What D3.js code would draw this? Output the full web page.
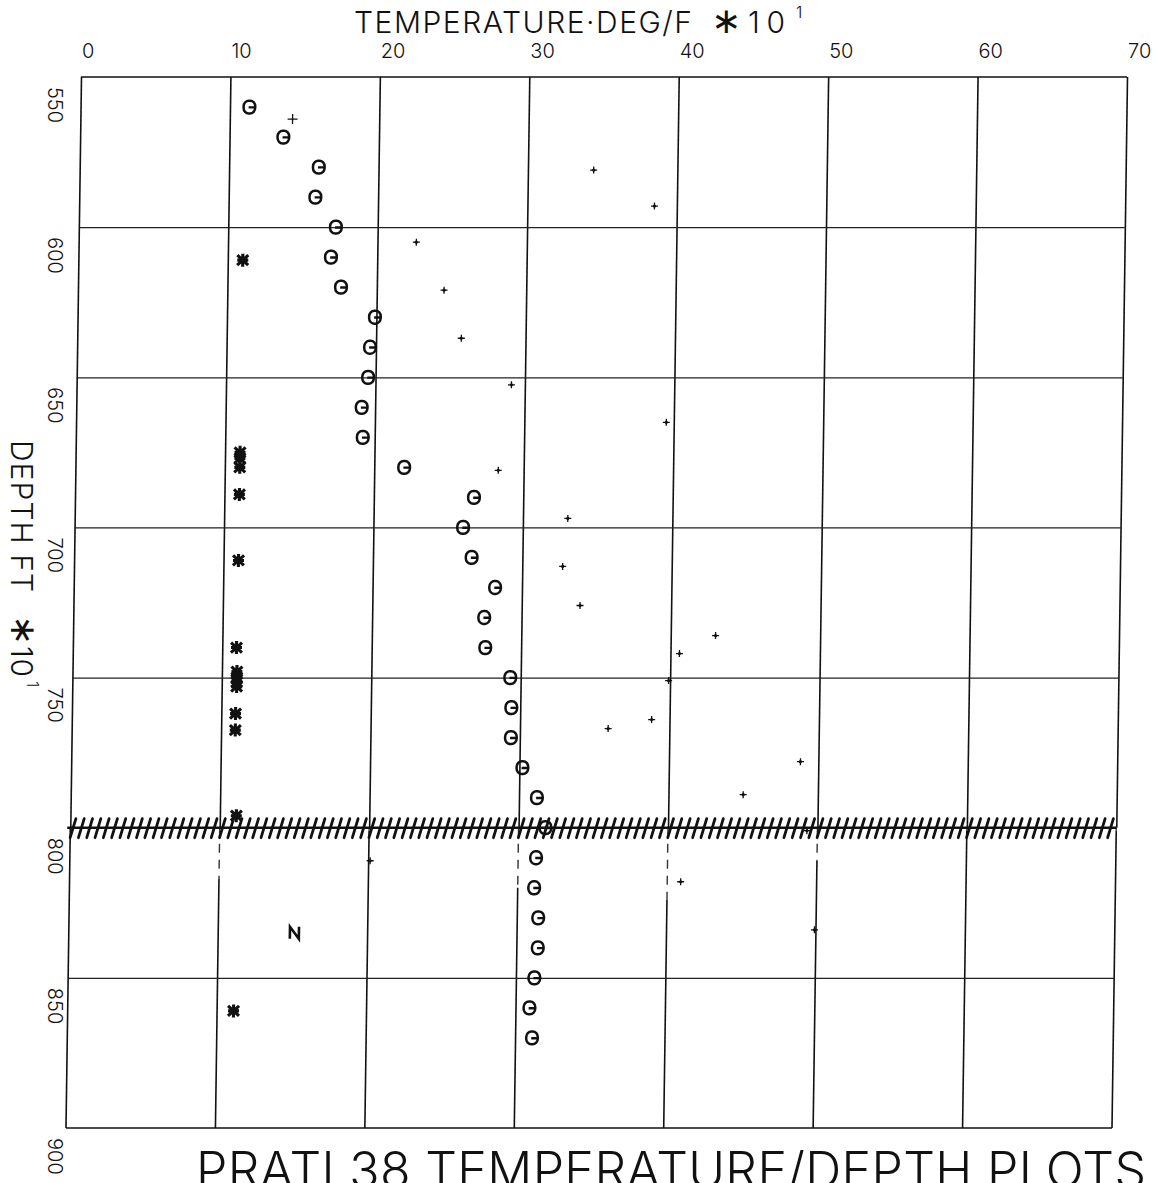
<!DOCTYPE html>
<html><head><meta charset="utf-8">
<script src="https://cdn.jsdelivr.net/npm/d3@7"></script>
<style>
html,body{margin:0;padding:0;background:#fff;}
svg{display:block;}
text{font-family:Inter,"DejaVu Sans",sans-serif;font-weight:300;fill:#111;}
</style></head><body>
<svg id="chart" width="1160" height="1183"></svg>
<script>
// ---------- data ----------
const xTicks = [0, 10, 20, 30, 40, 50, 60, 70];
const xTickLabels = ["0", "10", "20", "30", "40", "50", "60", "70"];
const yTicks = [550, 600, 650, 700, 750, 800, 850, 900];
const yTickLabels = ["550", "600", "650", "700", "750", "800", "850", "900"];
const hGrid = [600, 650, 700, 750, 850];
const hatchDepth = [800];

// "Θ" series
const thetaDepth = [560, 570, 580, 590, 600, 610, 620, 630, 640, 650, 660, 670, 680, 690, 700, 710,
                    720, 730, 740, 750, 760, 770, 780, 790, 800, 810, 820, 830, 840, 850, 860, 870];
const thetaTemp  = [11.3, 13.6, 16.0, 15.8, 17.2, 16.9, 17.6, 19.9, 19.6, 19.5, 19.1, 19.2, 22.0, 26.7, 26.0, 26.6,
                    28.2, 27.5, 27.6, 29.3, 29.4, 29.4, 30.2, 31.2, 31.8, 31.2, 31.1, 31.4, 31.4, 31.2, 30.9, 31.1];

// "+" series
const plusDepth = [564, 581, 593, 605, 621, 637, 652.5, 665, 681, 697, 713, 726, 736, 742, 751, 764, 767, 778, 789, 801, 811, 818, 834];
const plusTemp  = [14.2, 34.4, 38.5, 22.6, 24.5, 25.7, 29.1, 39.5, 28.3, 33.0, 32.7, 33.9, 43.0, 40.6, 39.9, 38.8, 35.9, 48.8, 45.0, 49.3, 20.1, 40.9, 49.9];

// "*" series
const starDepth = [611, 675, 677, 680, 689, 711, 740, 748, 750, 751.5, 753, 762, 767.5, 796, 861];
const starTemp  = [11.0, 11.0, 11.0, 11.0, 11.0, 11.0, 10.95, 11.0, 11.0, 11.0, 11.0, 10.95, 10.95, 11.1, 11.1];

// "N" series
const nDepth = [835];
const nTemp  = [15.1];

// ---------- layout ----------
const M = {left: 81, top: 77, width: 1046, height: 1051};
const shearPx = -15;
const skewDeg = Math.atan(shearPx / M.height) * 180 / Math.PI;
// where each vertical line turns solid again below the hatched line (scan break-up)
const solidFrom = [800, 817, 801, 820, 824, 811, 801, 801];

const x = d3.scaleLinear().domain([0, 70]).range([0, M.width]);
const y = d3.scaleLinear().domain([550, 900]).range([0, M.height]);

const svg = d3.select("#chart");
svg.append("rect").attr("width", 1160).attr("height", 1183).attr("fill", "#fff");

const plot = svg.append("g")
  .attr("transform", `translate(${M.left},${M.top}) skewX(${skewDeg})`);

// vertical grid, upper part (axis ticks down to the hatched line)
const vAxis = plot.append("g")
  .call(d3.axisTop(x).tickValues(xTicks).tickSize(-y(hatchDepth[0])).tickFormat(""));
vAxis.select(".domain").remove();
vAxis.selectAll("line").attr("stroke", "#111").attr("stroke-width", 1.6);

// vertical grid, lower part
const lower = plot.append("g");
xTicks.forEach((v, i) => {
  lower.append("line").attr("x1", x(v)).attr("x2", x(v))
    .attr("y1", y(hatchDepth[0])).attr("y2", y(solidFrom[i]))
    .attr("stroke", "#333").attr("stroke-width", 1.4).attr("stroke-dasharray", "9,7");
  lower.append("line").attr("x1", x(v)).attr("x2", x(v))
    .attr("y1", y(solidFrom[i])).attr("y2", M.height)
    .attr("stroke", "#111").attr("stroke-width", 1.6);
});

// horizontal grid
const hAxis = plot.append("g")
  .call(d3.axisLeft(y).tickValues(hGrid).tickSize(-M.width).tickFormat(""));
hAxis.select(".domain").remove();
hAxis.selectAll("line").attr("stroke", "#222").attr("stroke-width", 1.3);

// top / bottom borders
plot.append("line").attr("x1", 0).attr("x2", M.width).attr("y1", 0).attr("y2", 0)
  .attr("stroke", "#111").attr("stroke-width", 1.6);
plot.append("line").attr("x1", 0).attr("x2", M.width).attr("y1", M.height).attr("y2", M.height)
  .attr("stroke", "#111").attr("stroke-width", 1.6);

// hatched line
hatchDepth.forEach(d => {
  const yh = y(d);
  plot.append("line").attr("x1", -3).attr("x2", M.width).attr("y1", yh).attr("y2", yh)
    .attr("stroke", "#111").attr("stroke-width", 2.4);
  const step = 8.3;
  plot.append("g").selectAll("path").data(d3.range(3, M.width - 2, step)).join("path")
    .attr("d", hx => `M${hx - 3},${yh + 10}L${hx + 2.5},${yh - 9}`)
    .attr("stroke", "#111").attr("stroke-width", 2.8).attr("stroke-linecap", "round").attr("fill", "none");
});

// Θ markers
const thetaData = thetaDepth.map((d, i) => ({d, t: thetaTemp[i]}));
const th = plot.append("g").selectAll("g").data(thetaData).join("g")
  .attr("transform", p => `translate(${x(p.t)},${y(p.d)})`);
th.append("rect").attr("x", -5.8).attr("y", -6.4).attr("width", 11.6).attr("height", 12.8)
  .attr("rx", 5.2).attr("ry", 5.6).attr("fill", "none").attr("stroke", "#111").attr("stroke-width", 2.5);
th.append("path").attr("d", "M-0.8,0.3H5.8").attr("stroke", "#111").attr("stroke-width", 2.4);

// + markers
const plusData = plusDepth.map((d, i) => ({d, t: plusTemp[i]}));
const pl = plot.append("g").selectAll("g").data(plusData).join("g")
  .attr("transform", p => `translate(${x(p.t)},${y(p.d)})`);
pl.append("path").attr("d", (p, i) => i === 0 ? "M-5,0H5M0,-5V5" : "M-3.5,0H3.5M0,-3.5V3.5")
  .attr("stroke", "#111").attr("stroke-width", 1.3);
pl.append("circle").attr("r", (p, i) => i === 0 ? 0.8 : 1.6).attr("fill", "#111");

// * markers
const starData = starDepth.map((d, i) => ({d, t: starTemp[i]}));
plot.append("g").selectAll("path").data(starData).join("path")
  .attr("transform", p => `translate(${x(p.t)},${y(p.d)})`)
  .attr("d", "M0,-6.5V6.5M-5.5,-5L5.5,5M-5.5,5L5.5,-5M-5.5,0H5.5")
  .attr("stroke", "#111").attr("stroke-width", 3.1).attr("fill", "none");

// N markers
const nData = nDepth.map((d, i) => ({d, t: nTemp[i]}));
plot.append("g").selectAll("path").data(nData).join("path")
  .attr("transform", p => `translate(${x(p.t)},${y(p.d)})`)
  .attr("d", "M-4.5,6V-6L4.5,6V-6")
  .attr("stroke", "#111").attr("stroke-width", 2.6).attr("fill", "none").attr("stroke-linejoin", "miter");

// ---------- text ----------
// top tick labels
svg.append("g").selectAll("text").data(xTicks).join("text")
  .attr("x", v => M.left + x(v) + 1).attr("y", 58)
  .attr("font-size", 20).text((v, i) => xTickLabels[i]);

// left tick labels (rotated)
svg.append("g").selectAll("text").data(yTicks).join("text")
  .attr("transform", v => `translate(48,${M.top + y(v) + 10}) rotate(90)`)
  .attr("font-size", 20).text((v, i) => yTickLabels[i]);

// top axis title
svg.append("text").attr("x", 354).attr("y", 33).attr("font-size", 30)
  .attr("textLength", 338).attr("lengthAdjust", "spacing").text("TEMPERATURE·DEG/F");
const tx = svg.append("text").attr("x", 711).attr("y", 33).attr("font-size", 30)
  .attr("textLength", 74).attr("lengthAdjust", "spacing");
tx.append("tspan").attr("font-family", "DejaVu Sans").attr("font-weight", 400).attr("font-size", 36).text("∗");
tx.append("tspan").text("10");
svg.append("text").attr("x", 796).attr("y", 18).attr("font-size", 16).text("1");

// left axis title (rotated)
svg.append("text").attr("transform", "translate(11,440) rotate(90)").attr("font-size", 30)
  .attr("textLength", 152).attr("lengthAdjust", "spacing").text("DEPTH FT");
const ly = svg.append("text").attr("transform", "translate(11,615) rotate(90)").attr("font-size", 30)
  .attr("textLength", 62).attr("lengthAdjust", "spacing");
ly.append("tspan").attr("font-family", "DejaVu Sans").attr("font-weight", 400).attr("font-size", 36).text("∗");
ly.append("tspan").text("10");
svg.append("text").attr("transform", "translate(27,681) rotate(90)").attr("font-size", 16).text("1");

// bottom title (the reference page cuts it at the bottom edge)
svg.append("text").attr("x", 196).attr("y", 1188).attr("font-size", 50)
  .attr("textLength", 950).attr("lengthAdjust", "spacing").text("PRATI 38 TEMPERATURE/DEPTH PLOTS");
</script>
</body></html>
